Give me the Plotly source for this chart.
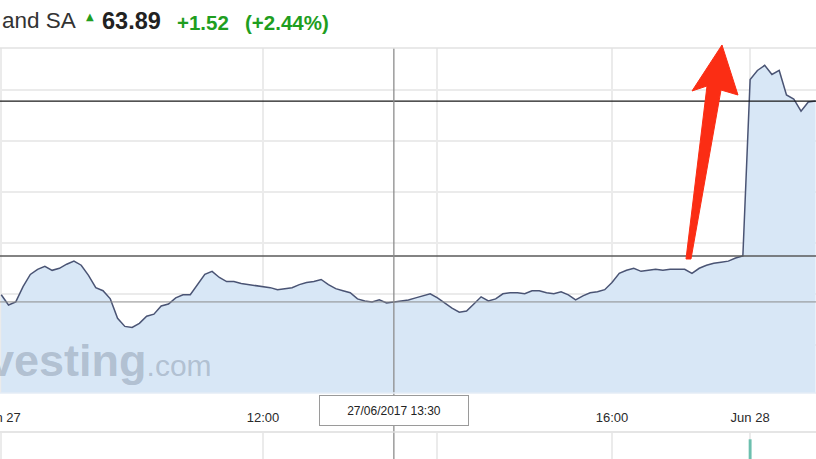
import plotly.graph_objects as go
import pandas as pd

# ---------------- data ----------------
times_jun27 = pd.date_range("2017-06-27 09:00", "2017-06-27 17:30", freq="5min")
times_jun28 = pd.date_range("2017-06-28 09:00", "2017-06-28 09:45", freq="5min")
times = [t.strftime("%d/%m/%Y %H:%M") for t in list(times_jun27) + list(times_jun28)]

prices_jun27 = [
    61.99, 61.89, 61.92, 62.07, 62.19, 62.24, 62.27, 62.23, 62.25, 62.29,
    62.32, 62.28, 62.18, 62.06, 62.03, 61.95, 61.76, 61.68, 61.67, 61.71,
    61.78, 61.80, 61.88, 61.90, 61.96, 61.99, 61.99, 62.09, 62.19, 62.22,
    62.16, 62.12, 62.12, 62.10, 62.09, 62.08, 62.07, 62.06, 62.04, 62.05,
    62.06, 62.09, 62.11, 62.12, 62.14, 62.09, 62.05, 62.03, 62.01, 61.95,
    61.93, 61.92, 61.94, 61.91, 61.92, 61.93, 61.94, 61.96, 61.98, 62.00,
    61.96, 61.91, 61.86, 61.82, 61.83, 61.90, 61.97, 61.93, 61.95, 62.00,
    62.01, 62.01, 62.00, 62.03, 62.03, 62.01, 62.00, 62.02, 61.99, 61.94,
    61.98, 62.01, 62.02, 62.04, 62.11, 62.20, 62.23, 62.25, 62.22, 62.23,
    62.24, 62.23, 62.24, 62.24, 62.24, 62.20, 62.25, 62.28, 62.30, 62.31,
    62.32, 62.35, 62.37,
]
prices_jun28 = [64.10, 64.19, 64.24, 64.15, 64.19, 63.95, 63.91, 63.79, 63.88, 63.89]
prices = prices_jun27 + prices_jun28

last_price = 63.89
prev_close = 62.37
change = "+1.52"
change_pct = "(+2.44%)"
name_text = "and SA"

crosshair_idx = 54  # 27/06/2017 13:30
crosshair_label = "27/06/2017 13:30"

tick_idx = [0, 36, 60, 84, 103]
tick_text = ["Jun 27", "12:00", "", "16:00", "Jun 28"]  # 14:00 label hidden under the crosshair box
grid_prices = [61.5, 62.0, 62.5, 63.0, 63.5, 64.0]

vol_times = [times[103]]
vol_values = [250000]

# ---------------- layout helpers ----------------
W, H = 816, 459
TOP = 48
PLOT_H = H - TOP


def px(x):
    return x / W


def py(y):
    return (H - y) / PLOT_H


FONT = "Liberation Sans, Arial, Helvetica, sans-serif"
GREEN = "#1f9e1f"
GRID = "#ebebeb"

fig = go.Figure()

fig.add_trace(go.Scatter(
    x=times, y=prices, mode="lines",
    line=dict(color="#4a5474", width=1.5),
    fill="tozeroy", fillcolor="#d8e7f6",
    hoverinfo="skip", xaxis="x", yaxis="y",
))

fig.add_trace(go.Bar(
    x=vol_times, y=vol_values, marker=dict(color="#6cbfae", line=dict(width=0)),
    width=0.4, xaxis="x2", yaxis="y2", hoverinfo="skip",
))

fig.update_layout(
    width=W, height=H,
    margin=dict(l=0, r=0, t=TOP, b=0, autoexpand=False),
    paper_bgcolor="white", plot_bgcolor="white",
    showlegend=False,
    font=dict(family=FONT, color="#333333"),
    xaxis=dict(
        type="category", categoryorder="array", categoryarray=times,
        range=[-0.17, 112.06], domain=[0, 1], anchor="y", automargin=False,
        tickmode="array", tickvals=[times[i] for i in tick_idx], ticktext=tick_text,
        showgrid=True, gridcolor=GRID, gridwidth=1.5,
        ticks="outside", ticklen=12, tickcolor="rgba(0,0,0,0)",
        tickfont=dict(size=13, color="#2a2a2a", family=FONT),
        zeroline=False, showline=False, fixedrange=True,
    ),
    xaxis2=dict(
        type="category", categoryorder="array", categoryarray=times,
        range=[-0.17, 112.06], domain=[0, 1], anchor="y2", matches="x", automargin=False,
        tickmode="array", tickvals=[times[i] for i in tick_idx],
        showticklabels=False, showgrid=True, gridcolor=GRID, gridwidth=1.5,
        zeroline=False, showline=False,
    ),
    yaxis=dict(
        domain=[py(393), 1], range=[61.027, 64.41], automargin=False,
        tickmode="array", tickvals=grid_prices, showticklabels=False,
        showgrid=True, gridcolor=GRID, gridwidth=1.5, zeroline=False, side="right",
    ),
    yaxis2=dict(
        domain=[0, py(433)], range=[0, 330000], automargin=False,
        showgrid=False, showticklabels=False, zeroline=False,
    ),
)

shapes = []
# reference lines
shapes.append(dict(type="line", xref="paper", yref="y", x0=0, x1=1, y0=last_price, y1=last_price,
                   line=dict(color="#1a1a1a", width=1.2)))
shapes.append(dict(type="line", xref="paper", yref="y", x0=0, x1=1, y0=prev_close, y1=prev_close,
                   line=dict(color="#5a5a5a", width=1.4)))
# crosshair
shapes.append(dict(type="line", xref="paper", yref="y", x0=0, x1=1,
                   y0=prices[crosshair_idx], y1=prices[crosshair_idx],
                   line=dict(color="#8c8c8c", width=1)))
shapes.append(dict(type="line", xref="x", yref="paper", x0=times[crosshair_idx], x1=times[crosshair_idx],
                   y0=0, y1=1, line=dict(color="#8c8c8c", width=1.3)))
# frame lines
shapes.append(dict(type="line", xref="paper", yref="paper", x0=0, x1=1, y0=1, y1=1,
                   line=dict(color="#e2e2e2", width=1.5)))
shapes.append(dict(type="line", xref="paper", yref="paper", x0=0, x1=1, y0=py(393), y1=py(393),
                   line=dict(color="#e4edf6", width=1.5)))
shapes.append(dict(type="line", xref="paper", yref="paper", x0=0, x1=1, y0=py(432), y1=py(432),
                   line=dict(color="#dcdcdc", width=1.5)))

# red arrow (decoration)
arrow_pts = [(722, 45), (738, 95), (721, 90), (691, 259), (686, 259), (707, 86), (692, 91)]
path = "M " + " L ".join(f"{px(x):.5f},{py(y):.5f}" for x, y in arrow_pts) + " Z"
shapes.append(dict(type="path", xref="paper", yref="paper", path=path,
                   fillcolor="#fb2d14", line=dict(color="#fb2d14", width=1)))

fig.update_layout(shapes=shapes)

annotations = [
    dict(text=name_text, x=px(0), y=py(21), xanchor="left", yanchor="middle",
         font=dict(size=22.5, color="#333333", family=FONT)),
    dict(text="\u25B2", x=px(84), y=py(16), xanchor="left", yanchor="middle",
         font=dict(size=10, color=GREEN, family="DejaVu Sans")),
    dict(text=f"<b>{last_price:.2f}</b>", x=px(100), y=py(21), xanchor="left", yanchor="middle",
         font=dict(size=23.5, color="#222222", family=FONT)),
    dict(text=f"<b>{change}</b>", x=px(175), y=py(22), xanchor="left", yanchor="middle",
         font=dict(size=20.5, color=GREEN, family=FONT)),
    dict(text=f"<b>{change_pct}</b>", x=px(243), y=py(22), xanchor="left", yanchor="middle",
         font=dict(size=20.5, color=GREEN, family=FONT)),
    dict(text="<b>Investing</b><span style='font-size:30px'>.com</span>",
         x=px(214), y=py(360), xanchor="right", yanchor="middle",
         font=dict(size=45, color="rgba(115,130,150,0.40)", family=FONT)),
    dict(text=crosshair_label, x=times[crosshair_idx], xref="x", y=py(410), yanchor="middle",
         xanchor="center", bgcolor="white", bordercolor="#9a9a9a", borderwidth=1, borderpad=6,
         width=136, height=17, font=dict(size=12, color="#222222", family=FONT)),
]
for a in annotations:
    a.setdefault("xref", "paper")
    a.setdefault("yref", "paper")
    a["showarrow"] = False
fig.update_layout(annotations=annotations)

fig.write_html("out.html", config={"displayModeBar": False},
               post_script="document.body.style.margin='0';")
